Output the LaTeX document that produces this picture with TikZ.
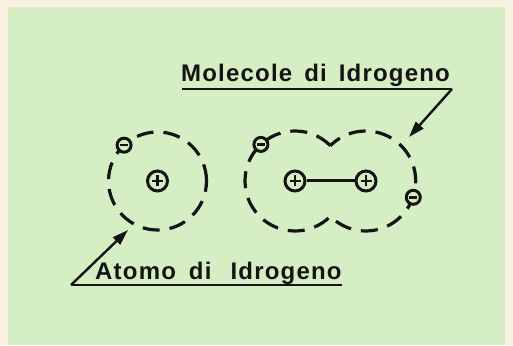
\documentclass[tikz,border=0pt]{standalone}
\usepackage{fontspec}
\setmainfont{Liberation Sans}
\usetikzlibrary{arrows.meta,calc}
\definecolor{paper}{HTML}{FAF0E2}
\definecolor{board}{HTML}{D5EEC4}
\definecolor{ink}{HTML}{141414}
\begin{document}
\begin{tikzpicture}[x=1pt,y=1pt,
  orbit/.style={draw=ink,line width=3.2pt,dash pattern=on 17pt off 10pt},
  nucleus/.style={circle,draw=ink,line width=3pt,minimum size=20pt,inner sep=0pt},
  electron/.style={circle,draw=ink,line width=3pt,minimum size=14pt,inner sep=0pt,fill=board},
  sign/.style={ink,line width=2.6pt},
  leader/.style={draw=ink,line width=2.4pt},
  pointer/.style={leader,-{Triangle[length=16pt,width=10pt]}},
  label/.style={anchor=base west,inner sep=0pt,text=ink,
    font=\fontsize{24}{24}\selectfont\bfseries\addfontfeature{LetterSpace=5}}]
  % page and board
  \fill[paper] (0,0) rectangle (513,345);
  \fill[board] (8,0) rectangle (505,338);
  \useasboundingbox (0,0) rectangle (513,345);

  % hydrogen atom
  \coordinate (A) at (157.5,164);
  \draw[orbit] (A) circle[radius=49];
  \node[nucleus] (pA) at (A) {};
  \draw[sign] ([xshift=-5.5pt]pA.center) -- ([xshift=5.5pt]pA.center)
    ([yshift=-5.5pt]pA.center) -- ([yshift=5.5pt]pA.center);
  \node[electron] (eA) at ($(A)+(133:49)$) {};
  \draw[sign] ([xshift=-4pt]eA.center) -- ([xshift=4pt]eA.center);

  % hydrogen molecule
  \coordinate (L) at (295,164);
  \coordinate (R) at (366,164);
  \draw[orbit] ($(L)+(45:50)$) arc[start angle=45,end angle=315,radius=50]
    arc[start angle=225,end angle=495,radius=50];
  \node[nucleus] (pL) at (L) {};
  \node[nucleus] (pR) at (R) {};
  \foreach \n in {pL,pR}
    \draw[sign] ([xshift=-5.5pt]\n.center) -- ([xshift=5.5pt]\n.center)
      ([yshift=-5.5pt]\n.center) -- ([yshift=5.5pt]\n.center);
  \draw[ink,line width=3pt] (pL) -- (pR);
  \node[electron] (eL) at ($(L)+(133:50)$) {};
  \node[electron] (eR) at ($(R)+(-19:50)$) {};
  \foreach \n in {eL,eR}
    \draw[sign] ([xshift=-4pt]\n.center) -- ([xshift=4pt]\n.center);

  % labels with leaders
  \node[label] (tM) at (181,263) {Molecole\hspace{12pt}di\hspace{12pt}Idrogeno};
  \coordinate (uM0) at (182,256);
  \coordinate (uM1) at (452,256);
  \coordinate (aM) at (409,208);
  \draw[leader] (uM0) -- (uM1);
  \draw[pointer] (uM1) -- (aM);

  \node[label] (tA) at (95,65) {Atomo\hspace{13pt}di\hspace{19pt}Idrogeno};
  \coordinate (uA0) at (71,60);
  \coordinate (uA1) at (342,60);
  \coordinate (aA) at (128,115);
  \draw[leader] (uA0) -- (uA1);
  \draw[pointer] (uA0) -- (aA);
\end{tikzpicture}
\end{document}
